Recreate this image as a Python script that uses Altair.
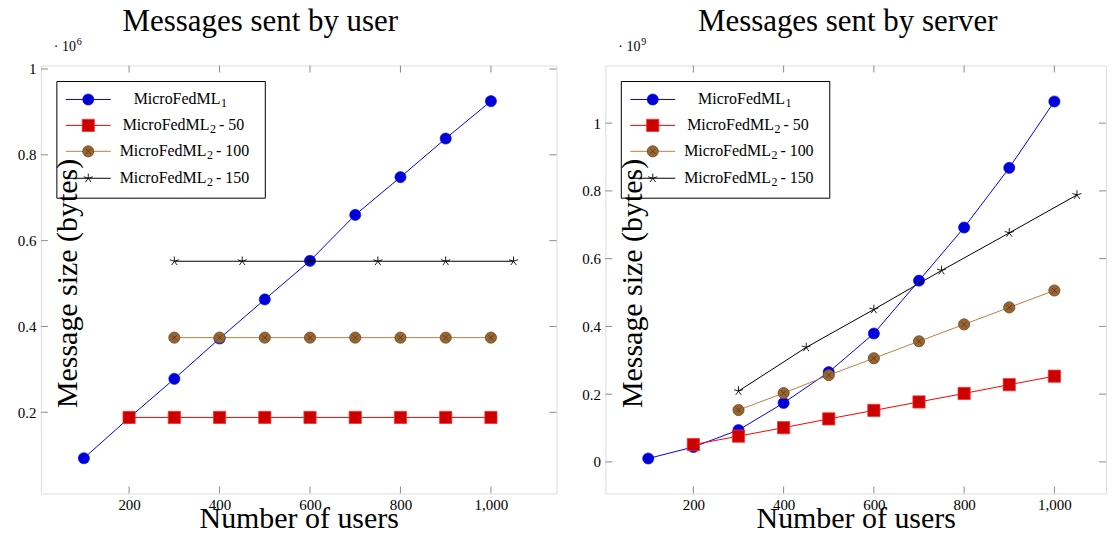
import altair as alt
import pandas as pd

FONT = "Liberation Serif"

# ---------------- data ----------------
x_all = [100, 200, 300, 400, 500, 600, 700, 800, 900, 1000]
x_from200 = [200, 300, 400, 500, 600, 700, 800, 900, 1000]
x_from300 = [300, 400, 500, 600, 700, 800, 900, 1000]
x_star = [300, 450, 600, 750, 900, 1050]

# Messages sent by user (x 10^6 bytes)
user_ml1 = [0.093, 0.187, 0.278, 0.372, 0.463, 0.553, 0.660, 0.748, 0.838, 0.925]
user_ml2_50 = [0.188, 0.188, 0.188, 0.188, 0.188, 0.188, 0.188, 0.188, 0.188]
user_ml2_100 = [0.374, 0.374, 0.374, 0.374, 0.374, 0.374, 0.374, 0.374]
user_ml2_150 = [0.552, 0.552, 0.552, 0.552, 0.552, 0.552]

# Messages sent by server (x 10^9 bytes)
server_ml1 = [0.010, 0.044, 0.094, 0.174, 0.265, 0.379, 0.535, 0.692, 0.868, 1.064]
server_ml2_50 = [0.051, 0.076, 0.101, 0.127, 0.152, 0.177, 0.202, 0.228, 0.253]
server_ml2_100 = [0.153, 0.203, 0.256, 0.306, 0.356, 0.406, 0.456, 0.506]
server_ml2_150 = [0.209, 0.338, 0.450, 0.565, 0.676, 0.788]

legend_main = ["MicroFedML", "MicroFedML", "MicroFedML", "MicroFedML"]
legend_sub = ["1", "2", "2", "2"]
legend_suffix = ["", "- 50", "- 100", "- 150"]
x_ticks = [200, 400, 600, 800, 1000]
user_y_ticks = [0.2, 0.4, 0.6, 0.8, 1.0]
server_y_ticks = [0, 0.2, 0.4, 0.6, 0.8, 1.0]

# ---------------- styles ----------------
STAR = "M0,0L0,-1M0,0L0.951,-0.309M0,0L0.588,0.809M0,0L-0.588,0.809M0,0L-0.951,-0.309"
XMARK = "M-0.7,-0.7L0.7,0.7M-0.7,0.7L0.7,-0.7"
styles = [
    dict(line="#0000ff", kind="circle"),
    dict(line="#ff0000", kind="square"),
    dict(line="#bf8040", kind="otimes"),
    dict(line="#000000", kind="star"),
]

W_L, W_R, H = 517, 502, 429
TICK_C = "#8c8c8c"


def marker_layers(base, kind):
    if kind == "circle":
        return [base.mark_point(shape="circle", filled=True, fill="#0000d8", stroke="#0000ff",
                                strokeWidth=0.6, size=125, opacity=1)]
    if kind == "square":
        return [base.mark_point(shape="square", filled=True, fill="#cc0000", stroke="#ff3030",
                                strokeWidth=0.8, size=150, opacity=1)]
    if kind == "otimes":
        return [
            base.mark_point(shape="circle", filled=True, fill="#996633", stroke="#6b4520",
                            strokeWidth=0.8, size=125, opacity=1),
            base.mark_point(shape=XMARK, filled=False, stroke="#4a2f14", strokeWidth=0.7,
                            size=60, opacity=1),
        ]
    return [base.mark_point(shape=STAR, filled=False, stroke="#000000", strokeWidth=0.9,
                            size=90, opacity=1)]


def panel(series, x_domain, y_domain, y_ticks, width, exp_label, title, title_cx):
    xscale = alt.Scale(domain=x_domain, nice=False, zero=False)
    yscale = alt.Scale(domain=y_domain, nice=False, zero=False)
    xaxis = alt.Axis(values=x_ticks, format=",.0f", ticks=False, domain=False, grid=False,
                     labelFont=FONT, labelFontSize=15, labelColor="black", labelPadding=4,
                     title="Number of users", titleFont=FONT, titleFontSize=30,
                     titleFontWeight="normal", titleColor="black", titleY=34,
                     titleBaseline="alphabetic", titleLimit=1000, zindex=1)
    yaxis = alt.Axis(values=y_ticks, format="~g", ticks=False, domain=False, grid=False,
                     labelFont=FONT, labelFontSize=15, labelColor="black", labelPadding=5,
                     minExtent=32, maxExtent=32,
                     title="Message size (bytes)", titleFont=FONT, titleFontSize=30,
                     titleFontWeight="normal", titleColor="black", titleAngle=270,
                     titleX=36, titleY=218, titleAlign="center", titleBaseline="alphabetic",
                     titleLimit=1000, zindex=1)

    def X(field="x"):
        return alt.X(f"{field}:Q", scale=xscale, axis=xaxis)

    def Y(field="y"):
        return alt.Y(f"{field}:Q", scale=yscale, axis=yaxis)

    layers = []
    for (xs, ys), st in zip(series, styles):
        df = pd.DataFrame({"x": xs, "y": ys})
        base = alt.Chart(df).encode(x=X(), y=Y())
        layers.append(base.mark_line(color=st["line"], strokeWidth=1))
        layers += marker_layers(base, st["kind"])

    # inward ticks on all four sides
    tx = alt.Chart(pd.DataFrame({"x": x_ticks}))
    layers.append(tx.mark_rule(color=TICK_C, strokeWidth=1).encode(
        x=X(), y=alt.value(H - 7), y2=alt.value(H)))
    layers.append(tx.mark_rule(color=TICK_C, strokeWidth=1).encode(
        x=X(), y=alt.value(0), y2=alt.value(7)))
    ty = alt.Chart(pd.DataFrame({"y": y_ticks}))
    layers.append(ty.mark_rule(color=TICK_C, strokeWidth=1).encode(
        y=Y(), x=alt.value(0), x2=alt.value(7)))
    layers.append(ty.mark_rule(color=TICK_C, strokeWidth=1).encode(
        y=Y(), x=alt.value(width - 7), x2=alt.value(width)))

    one = alt.Chart(pd.DataFrame({"a": [0]}))

    # panel title
    layers.append(one.mark_text(text=title, font=FONT, fontSize=31, align="center",
                                baseline="alphabetic", color="black").encode(
        x=alt.value(title_cx), y=alt.value(-35)))

    # exponent label
    layers.append(one.mark_text(text="· 10", font=FONT, fontSize=14, align="left",
                                baseline="alphabetic", color="black").encode(
        x=alt.value(13), y=alt.value(-15)))
    layers.append(one.mark_text(text=exp_label, font=FONT, fontSize=10, align="left",
                                baseline="alphabetic", color="black").encode(
        x=alt.value(36), y=alt.value(-21)))

    # legend
    layers.append(one.mark_rect(fill="white", stroke="black", strokeWidth=1).encode(
        x=alt.value(16), x2=alt.value(225), y=alt.value(16), y2=alt.value(133)))
    row_y = [34, 60, 86, 113]
    ml_end = [180, 169, 166, 166]
    for i, st in enumerate(styles):
        ry = row_y[i]
        layers.append(one.mark_rule(color=st["line"], strokeWidth=1).encode(
            x=alt.value(25), x2=alt.value(70), y=alt.value(ry)))
        b = one.encode(x=alt.value(47.5), y=alt.value(ry))
        layers += marker_layers(b, st["kind"])
        layers.append(one.mark_text(text=legend_main[i], font=FONT, fontSize=16, align="right",
                                    baseline="alphabetic", color="black").encode(
            x=alt.value(ml_end[i]), y=alt.value(ry + 5)))
        layers.append(one.mark_text(text=legend_sub[i], font=FONT, fontSize=12, align="left",
                                    baseline="alphabetic", color="black").encode(
            x=alt.value(ml_end[i] + 0.5), y=alt.value(ry + 8)))
        if legend_suffix[i]:
            layers.append(one.mark_text(text=legend_suffix[i], font=FONT, fontSize=16,
                                        align="left", baseline="alphabetic", color="black").encode(
                x=alt.value(ml_end[i] + 9.5), y=alt.value(ry + 5)))

    return alt.layer(*layers).properties(width=width, height=H)


left = panel(
    [(x_all, user_ml1), (x_from200, user_ml2_50), (x_from300, user_ml2_100), (x_star, user_ml2_150)],
    [5, 1145], [0.011, 1.008], user_y_ticks, W_L, "6", "Messages sent by user", 220,
)
right = panel(
    [(x_all, server_ml1), (x_from200, server_ml2_50), (x_from300, server_ml2_100), (x_star, server_ml2_150)],
    [5, 1114.4], [-0.093, 1.17], server_y_ticks, W_R, "9", "Messages sent by server", 243,
)

chart = alt.hconcat(left, right, spacing=15).properties(
    padding={"left": 0, "top": -4, "right": 0, "bottom": 0}
).configure_view(stroke="black", strokeWidth=1).configure(background="white")

chart.save("out.html", embed_options={"renderer": "svg", "actions": False})
